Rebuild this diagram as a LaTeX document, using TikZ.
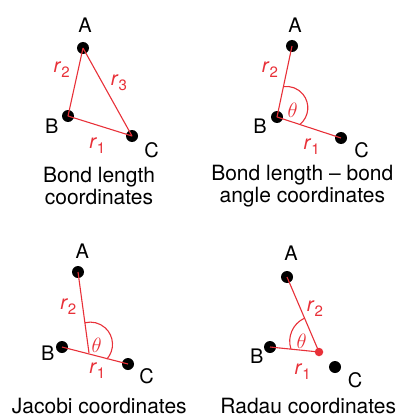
\documentclass[tikz,border=0pt]{standalone}
\usepackage{fontspec}
\setmainfont{TeX Gyre Heros}
\definecolor{bondred}{RGB}{232,48,56}
\newcommand{\bondr}[1]{\textit{r}\raisebox{-5pt}{\fontsize{15}{15}\selectfont #1}}

\begin{document}
\begin{tikzpicture}[x=1pt,y=1pt,
  atom/.style={circle,fill=black,inner sep=0pt,minimum size=12pt},
  lbl/.style={font=\fontsize{20}{20}\selectfont,inner sep=1pt},
  rlbl/.style={text=bondred,font=\fontsize{20}{20}\selectfont,inner sep=1pt},
  bond/.style={bondred,line width=1.1pt,line join=round},
  capt/.style={font=\fontsize{21}{21.7}\selectfont,align=center}]
\useasboundingbox (0,0) rectangle (398,-417);
% bond length coordinates
\begin{scope}
\node[atom] (a1) at (83,-48) {};
\node[atom] (b1) at (68,-116) {};
\node[atom] (c1) at (132,-136) {};
\draw[bond] (a1.center)--(b1.center)--(c1.center)--(a1.center);
\node[lbl] (la1) at (85,-25.6) {A};
\node[lbl] (lb1) at (51.7,-126.7) {B};
\node[lbl] (lc1) at (151.7,-150.7) {C};
\node[rlbl] (r21) at (61.7,-70) {\bondr{2}};
\node[rlbl] (r31) at (119,-83) {\bondr{3}};
\node[rlbl] (r11) at (97.3,-145.7) {\bondr{1}};
\node[capt] (t1) at (99,-186) {Bond length\\coordinates};
\end{scope}
% bond length - bond angle coordinates
\begin{scope}
\node[atom] (a2) at (292,-46) {};
\node[atom] (b2) at (277,-117) {};
\node[atom] (c2) at (341,-138) {};
\draw[bond] (a2.center)--(b2.center)--(c2.center);
\coordinate (o2) at (286.4,-107.8);
\draw[bond] (o2) ++(-50.5:21.4) arc[start angle=-50.5,end angle=98,radius=21.4];
\node[lbl] (la2) at (295,-25) {A};
\node[lbl] (lb2) at (260,-126.7) {B};
\node[lbl] (lc2) at (361.7,-150.7) {C};
\node[rlbl] (r22) at (270,-70) {\bondr{2}};
\node[rlbl] (r12) at (311.7,-146.7) {\bondr{1}};
\node[rlbl] (th2) at (292.7,-110) {$\theta$};
\node[capt] (t2) at (302.3,-186) {Bond length -- bond\\angle coordinates};
\end{scope}
% Jacobi coordinates
\begin{scope}
\node[atom] (a3) at (78,-272) {};
\node[atom] (b3) at (62,-347) {};
\node[atom] (c3) at (128,-364) {};
\coordinate (j3) at (89,-353);
\draw[bond] (b3.center)--(c3.center);
\draw[bond] (a3.center)--(j3);
\coordinate (o3) at (90.3,-344.3);
\draw[bond] (o3) ++(-42:22.2) arc[start angle=-42,end angle=104,radius=22.2];
\node[lbl] (la3) at (82.3,-251.7) {A};
\node[lbl] (lb3) at (47.7,-353.3) {B};
\node[lbl] (lc3) at (146.7,-376.7) {C};
\node[rlbl] (r23) at (68.3,-306.7) {\bondr{2}};
\node[rlbl] (r13) at (97.3,-371) {\bondr{1}};
\node[rlbl] (th3) at (96.7,-345) {$\theta$};
\node[capt] (t3) at (99.3,-406) {Jacobi coordinates};
\end{scope}
% Radau coordinates
\begin{scope}
\node[atom] (a4) at (287,-277) {};
\node[atom] (b4) at (270,-347) {};
\node[atom] (c4) at (335,-367) {};
\draw[bond] (a4.center)--(319,-352)--(b4.center);
\node[circle,fill=bondred,inner sep=0pt,minimum size=8.5pt] (d4) at (319,-352) {};
\coordinate (o4) at (315,-341.2);
\draw[bond] (o4) ++(115:25.3) arc[start angle=115,end angle=198,radius=25.3];
\node[lbl] (la4) at (291,-253.3) {A};
\node[lbl] (lb4) at (256.7,-356.7) {B};
\node[lbl] (lc4) at (355,-380) {C};
\node[rlbl] (r24) at (315,-308.3) {\bondr{2}};
\node[rlbl] (r14) at (302.7,-371.7) {\bondr{1}};
\node[rlbl] (th4) at (301.7,-341.7) {$\theta$};
\node[capt] (t4) at (308.3,-406) {Radau coordinates};
\end{scope}
\end{tikzpicture}
\end{document}
